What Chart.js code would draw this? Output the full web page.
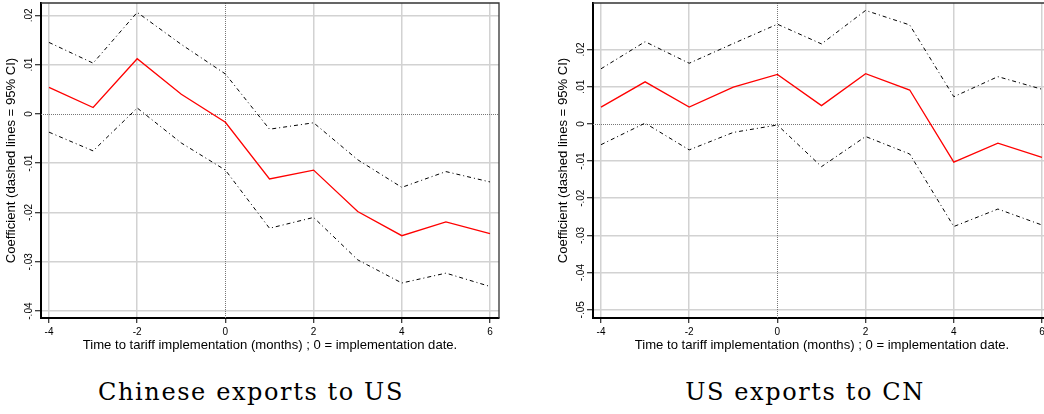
<!DOCTYPE html>
<html><head><meta charset="utf-8">
<script src="https://cdn.jsdelivr.net/npm/chart.js@4"></script>
<style>
html,body{margin:0;padding:0;background:#fff;overflow:hidden;width:1044px;height:414px;}
.wrap{position:absolute;top:0;}
#w1{left:0;width:522px;height:360px}
#w2{left:552px;width:560px;height:360px}
.cap{position:absolute;font-family:"DejaVu Serif";font-size:24px;letter-spacing:1.6px;color:#000;white-space:nowrap;transform:translateX(-50%);top:380px;line-height:1}
</style></head><body>
<div class="wrap" id="w1"><canvas id="c1"></canvas></div>
<div class="wrap" id="w2"><canvas id="c2"></canvas></div>
<div class="cap" id="cap1" style="left:251px">Chinese exports to US</div>
<div class="cap" id="cap2" style="left:805px">US exports to CN</div>
<script>
const months = [-4, -3, -2, -1, 0, 1, 2, 3, 4, 5, 6];
const xTicks = [-4, -2, 0, 2, 4, 6];

const cnCoef  = [0.0054, 0.0013, 0.0112, 0.0040, -0.0017, -0.0132, -0.0114, -0.0198, -0.0247, -0.0219, -0.0243];
const cnUpper = [0.0145, 0.0103, 0.0206, 0.0141, 0.0081, -0.0031, -0.0018, -0.0093, -0.0149, -0.0117, -0.0138];
const cnLower = [-0.0037, -0.0075, 0.0012, -0.0059, -0.0114, -0.0232, -0.0210, -0.0296, -0.0343, -0.0323, -0.0350];
const cnYTicks = [-0.04, -0.03, -0.02, -0.01, 0, 0.01, 0.02];

const usCoef  = [0.0045, 0.0113, 0.0045, 0.0099, 0.0133, 0.0049, 0.0135, 0.0091, -0.0103, -0.0052, -0.0090];
const usUpper = [0.0148, 0.0221, 0.0163, 0.0216, 0.0268, 0.0215, 0.0305, 0.0266, 0.0073, 0.0127, 0.0093];
const usLower = [-0.0056, 0.0002, -0.0070, -0.0023, -0.0003, -0.0115, -0.0034, -0.0081, -0.0276, -0.0229, -0.0272];
const usYTicks = [-0.05, -0.04, -0.03, -0.02, -0.01, 0, 0.01, 0.02];

const xTitle = 'Time to tariff implementation (months) ; 0 = implementation date.';
const yTitle = 'Coefficient (dashed lines = 95% CI)';

function fmt(v) {
  if (Math.abs(v) < 1e-9) return '0';
  return v.toFixed(2).replace(/^(-?)0\./, '$1.');
}
const FONT = '"Liberation Sans", Arial, sans-serif';

const frame = {
  id: 'frame',
  beforeDatasetsDraw(chart) {
    const {ctx, chartArea: a, scales: {x, y}} = chart;
    ctx.save();
    ctx.strokeStyle = '#777';
    ctx.lineWidth = 1;
    ctx.setLineDash([1, 1]);
    const y0 = Math.round(y.getPixelForValue(0)) + 0.5;
    ctx.beginPath(); ctx.moveTo(a.left, y0); ctx.lineTo(a.right, y0); ctx.stroke();
    const x0 = Math.round(x.getPixelForValue(0)) + 0.5;
    ctx.beginPath(); ctx.moveTo(x0, a.top); ctx.lineTo(x0, a.bottom); ctx.stroke();
    ctx.setLineDash([]);
    ctx.strokeStyle = '#333';
    ctx.lineWidth = 1.3;
    ctx.beginPath();
    ctx.moveTo(a.left, a.top); ctx.lineTo(a.right, a.top); ctx.lineTo(a.right, a.bottom);
    ctx.stroke();
    ctx.restore();
  }
};

function makeChart(id, coef, up, lo, yTicks, yMin, yMax, padRight) {
  const pts = arr => arr.map((v, i) => ({x: months[i], y: v}));
  const ci = {borderColor: '#000', borderWidth: 1, borderDash: [4, 3, 1, 3], pointRadius: 0, fill: false, tension: 0};
  return new Chart(document.getElementById(id), {
    type: 'line',
    data: {
      datasets: [
        Object.assign({label: 'upper', data: pts(up)}, ci),
        Object.assign({label: 'lower', data: pts(lo)}, ci),
        {label: 'coef', data: pts(coef), borderColor: '#ff0000', borderWidth: 1.3, pointRadius: 0, fill: false, tension: 0}
      ]
    },
    options: {
      responsive: true, maintainAspectRatio: false, animation: false, devicePixelRatio: 1,
      layout: {padding: {top: 3, right: padRight, bottom: 0, left: 0}},
      plugins: {legend: {display: false}, tooltip: {enabled: false}, title: {display: false}},
      scales: {
        x: {
          type: 'linear', min: -4.1814, max: 6.204,
          afterBuildTicks: s => { s.ticks = xTicks.map(v => ({value: v})); },
          afterFit: s => { s.height = 42; },
          ticks: {font: {family: FONT, size: 10}, color: '#000', padding: 3, maxRotation: 0, callback: v => String(v)},
          grid: {
            color: c => (c.tick && c.tick.value === 0) ? 'rgba(0,0,0,0)' : '#d2d2d2',
            lineWidth: 1.5, tickColor: '#000', tickLength: 5, tickWidth: 1
          },
          border: {color: '#000', width: 2},
          title: {display: true, text: xTitle, color: '#000', font: {family: FONT, size: 13.1}, padding: {top: 0, bottom: 6.5}}
        },
        y: {
          type: 'linear', min: yMin, max: yMax,
          afterBuildTicks: s => { s.ticks = yTicks.map(v => ({value: v})); },
          afterFit: s => { s.width = 41; },
          ticks: {font: {family: FONT, size: 10}, color: '#000', padding: -3, minRotation: 90, maxRotation: 90, crossAlign: 'center', callback: v => fmt(v)},
          grid: {
            color: c => (c.tick && Math.abs(c.tick.value) < 1e-9) ? 'rgba(0,0,0,0)' : '#d2d2d2',
            lineWidth: 1.5, tickColor: '#000', tickLength: 6, tickWidth: 1
          },
          border: {color: '#000', width: 2},
          title: {display: true, text: yTitle, color: '#000', font: {family: FONT, size: 13.1}, padding: {top: 4, bottom: 0}}
        }
      }
    },
    plugins: [frame]
  });
}

makeChart('c1', cnCoef, cnUpper, cnLower, cnYTicks, -0.0414, 0.0225, 23);
makeChart('c2', usCoef, usUpper, usLower, usYTicks, -0.0522, 0.0325, 61);
</script>
</body></html>
